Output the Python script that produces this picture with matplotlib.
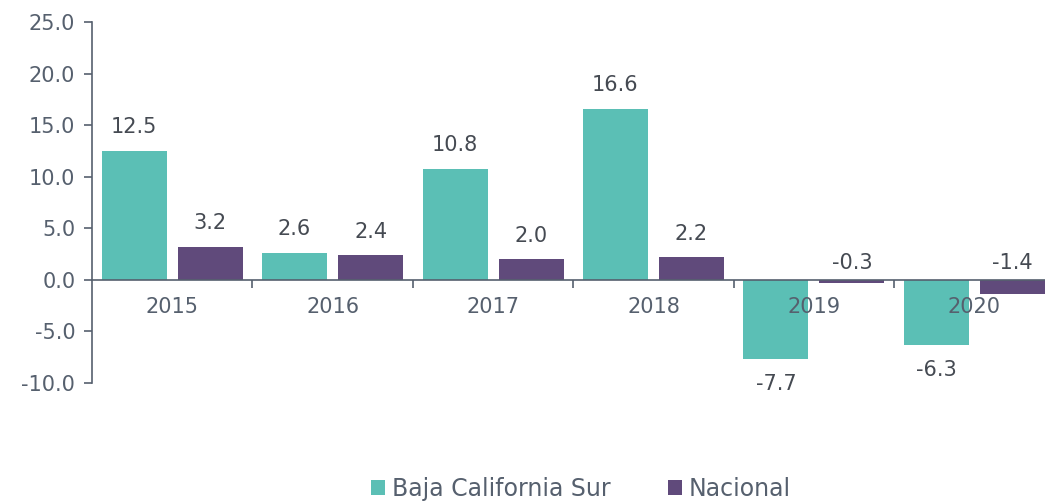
import numpy as np
import matplotlib.pyplot as plt
from matplotlib.ticker import FixedLocator, FormatStrFormatter

years = ['2015', '2016', '2017', '2018', '2019', '2020']
bcs = [12.5, 2.6, 10.8, 16.6, -7.7, -6.3]
nacional = [3.2, 2.4, 2.0, 2.2, -0.3, -1.4]

teal = '#5BBFB5'
purple = '#604A7B'
axis_color = '#56606E'
label_color = '#454A52'

plt.rcParams['font.family'] = ['DejaVu Sans']

fig = plt.figure(figsize=(10.45, 5.03), dpi=100)
ax = fig.add_axes([0.088, 0.2386, 0.912, 0.7174])

x = np.arange(len(years))
w = 0.405
b1 = ax.bar(x - 0.237, bcs, w, color=teal, label='Baja California Sur')
b2 = ax.bar(x + 0.237, nacional, w, color=purple, label='Nacional')

# value labels: Nacional negatives sit just above the zero line
for xi, v in zip(x - 0.237, bcs):
    off = 17 if v >= 0 else -18
    ax.annotate(f'{v:.1f}', (xi, v), xytext=(0, off), textcoords='offset points',
                ha='center', va='center', fontsize=15, color=label_color)
for xi, v in zip(x + 0.237, nacional):
    off = 17 if v >= 0 else 12
    ax.annotate(f'{v:.1f}', (xi, max(v, 0)), xytext=(0, off), textcoords='offset points',
                ha='center', va='center', fontsize=15, color=label_color)

ax.set_ylim(-10, 25)
ax.set_xlim(-0.5, 5.44)
ax.set_yticks(np.arange(-10, 26, 5))
ax.yaxis.set_major_formatter(FormatStrFormatter('%.1f'))
ax.tick_params(axis='y', labelsize=15, colors=axis_color, length=6, width=1.2, pad=6)

ax.set_xticks(x)
ax.set_xticklabels(years)
ax.xaxis.set_minor_locator(FixedLocator(np.arange(0.5, 5, 1)))
ax.tick_params(axis='x', which='major', length=0, labelsize=15, colors=axis_color, pad=12)
ax.tick_params(axis='x', which='minor', length=6, width=1.2, color=axis_color)

for s in ['top', 'right']:
    ax.spines[s].set_visible(False)
ax.spines['bottom'].set_position(('data', 0))
ax.spines['bottom'].set_color(axis_color)
ax.spines['bottom'].set_linewidth(1.2)
ax.spines['left'].set_color(axis_color)
ax.spines['left'].set_linewidth(1.2)

fig.legend(handles=[b1, b2], loc='lower center', bbox_to_anchor=(0.556, -0.038), ncol=2,
           frameon=False, fontsize=17, handlelength=0.6, handleheight=0.6,
           handletextpad=0.3, columnspacing=2.4, labelcolor=axis_color)

fig.savefig('out.png', dpi=100)
